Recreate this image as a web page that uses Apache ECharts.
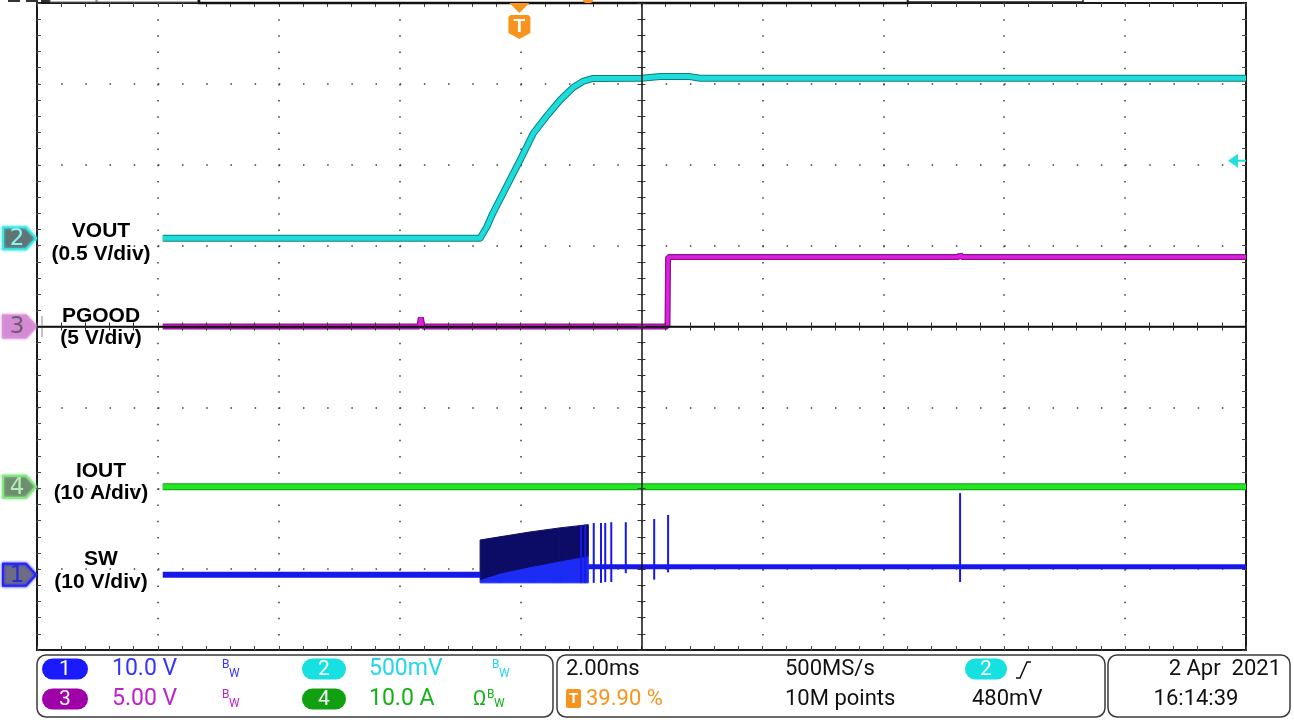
<!DOCTYPE html>
<html><head><meta charset="utf-8">
<script src="https://cdn.jsdelivr.net/npm/echarts@6/dist/echarts.min.js"></script>
<style>html,body{margin:0;padding:0;background:#fff}#c{width:1294px;height:722px}</style>
</head><body><div id="c"></div>
<script>
// ---- channel settings (volts or amps per division, marker offset in divisions) ----
const chScale  = { SW: 10, VOUT: 0.5, PGOOD: 5, IOUT: 10 };
const chOffset = { SW: -3.07, VOUT: 1.09, PGOOD: 0, IOUT: -1.98 };
const triggerTime = -2.02;      // ms from screen centre (39.90 %)
const triggerLevel = 0.48;      // V on channel 2

// ---- traces (time in ms relative to screen centre) ----
const voutT = [-7.92, -2.67, -2.56, -2.46, -2.18, -2.01, -1.79, -1.56, -1.35, -1.13, -0.97, -0.80, 0.00, 0.31, 0.80, 0.97, 5.27, 10.0];
const voutV = [0, 0, 0.07, 0.155, 0.358, 0.482, 0.649, 0.760, 0.853, 0.933, 0.970, 0.989, 0.99, 1.00, 1.00, 0.99, 0.99, 0.99];

const pgoodT = [-7.92, -3.675, -3.65, -3.625, 0.43, 0.44, 5.25, 5.27, 5.30, 10.0];
const pgoodV = [0, 0, 0.55, 0, 0, 4.3, 4.3, 4.45, 4.3, 4.3];

const ioutT = [-7.92, 10.0];
const ioutV = [0, 0];

const swPreT = [-7.92, -2.67];
const swPreV = [0, 0];
const swBurstT   = [-2.67, -2.34, -1.84, -1.35, -0.88];
const swBurstTop = [4.3, 4.7, 5.3, 5.8, 6.2];
const swBurstMid = [-0.6, 0.2, 1.0, 1.7, 2.35];
const swBurstLow = [-1.0, -1.0, -1.0, -1.0, -1.0];
const swPostT = [-0.88, 10.0];
const swPostV = [1.0, 1.0];
const swSpikeT  = [-1.00, -0.93, -0.79, -0.67, -0.60, -0.50, -0.26, 0.21, 0.44, 5.27];
const swSpikeHi = [6.1, 6.2, 6.4, 6.4, 6.4, 6.5, 6.5, 6.9, 7.4, 10.1];
const swSpikeLo = [-1.0, -1.0, -1.0, -1.0, -0.9, -0.9, 0.2, -0.6, 0.3, -0.9];

// ---- helpers ----
const toDiv = (v, ch) => v / chScale[ch] + chOffset[ch];
const pts = (T, V, ch) => T.map((t, i) => [t, toDiv(V[i], ch)]);

const burstData = swBurstT.map((t, i) => [t, toDiv(swBurstTop[i], 'SW'), toDiv(swBurstMid[i], 'SW'), toDiv(swBurstLow[i], 'SW')]);
const spikeData = swSpikeT.map((t, i) => [t, toDiv(swSpikeHi[i], 'SW'), toDiv(swSpikeLo[i], 'SW')]);

const chart = echarts.init(document.getElementById('c'), null, { renderer: 'canvas' });

const GRID_DOT = '#3a3a3a';
function borderX(pos, split) {
  return {
    type: 'value', min: -10, max: 10, interval: 2, position: pos,
    axisLine: { show: false, onZero: false },
    axisTick: { show: true, inside: true, length: 4, lineStyle: { color: '#444', width: 1 } },
    minorTick: { show: true, splitNumber: 5, length: 4, lineStyle: { color: '#444', width: 1 } },
    axisLabel: { show: false },
    splitLine: { show: split, lineStyle: { color: GRID_DOT, width: 1.5, type: [1.5, 14.68] } }
  };
}
function borderY(pos, split) {
  return {
    type: 'value', min: -4, max: 4, interval: 1, position: pos,
    axisLine: { show: false, onZero: false },
    axisTick: { show: true, inside: true, length: 4, lineStyle: { color: '#444', width: 1 } },
    minorTick: { show: true, splitNumber: 5, length: 4, lineStyle: { color: '#444', width: 1 } },
    axisLabel: { show: false },
    splitLine: { show: split, lineStyle: { color: GRID_DOT, width: 1.5, type: [1.5, 22.68] } }
  };
}
function centerX(pos, showLine) {
  return {
    type: 'value', min: -10, max: 10, interval: 2, position: pos, z: 20,
    axisLine: { show: showLine, onZero: true, onZeroAxisIndex: 0, lineStyle: { color: '#111', width: 1.5 } },
    axisTick: { show: true, length: 4, lineStyle: { color: '#333', width: 1 } },
    minorTick: { show: true, splitNumber: 5, length: 4, lineStyle: { color: '#333', width: 1 } },
    axisLabel: { show: false }, splitLine: { show: false }
  };
}
function centerY(pos, showLine) {
  return {
    type: 'value', min: -4, max: 4, interval: 1, position: pos, z: 20,
    axisLine: { show: showLine, onZero: true, onZeroAxisIndex: 0, lineStyle: { color: '#111', width: 1.5 } },
    axisTick: { show: true, length: 4, lineStyle: { color: '#333', width: 1 } },
    minorTick: { show: true, splitNumber: 5, length: 4, lineStyle: { color: '#333', width: 1 } },
    axisLabel: { show: false }, splitLine: { show: false }
  };
}

function line(data, color, width, z, join) {
  return { type: 'line', data, xAxisIndex: 0, yAxisIndex: 0, symbol: 'none', showSymbol: false,
    lineStyle: { color, width, join: join || 'miter' }, itemStyle: { color }, z, silent: true, animation: false };
}

const series = [
  line(pts(swPreT, swPreV, 'SW'), '#1818e8', 6, 2),
  { type: 'custom', xAxisIndex: 0, yAxisIndex: 0, data: burstData, z: 2, silent: true, animation: false, clip: true,
    encode: { x: 0, y: [1, 2, 3] },
    renderItem: function (params, api) {
      const i = params.dataIndex;
      if (i >= burstData.length - 1) return null;
      const a = burstData[i], b = burstData[i + 1];
      const c = (t, y) => api.coord([t, y]);
      return { type: 'group', children: [
        { type: 'polygon', shape: { points: [c(a[0], a[2]), c(b[0], b[2]), c(b[0], b[3]), c(a[0], a[3])] },
          style: { fill: '#1c2cf4', stroke: '#1c2cf4', lineWidth: 1 } },
        { type: 'polygon', shape: { points: [c(a[0], a[1]), c(b[0], b[1]), c(b[0], b[2]), c(a[0], a[2])] },
          style: { fill: '#0c0c66', stroke: '#0c0c66', lineWidth: 1 } }
      ] };
    } },
  line(pts(swPostT, swPostV, 'SW'), '#1818e8', 5, 2),
  { type: 'custom', xAxisIndex: 0, yAxisIndex: 0, data: spikeData, z: 2, silent: true, animation: false, clip: true,
    encode: { x: 0, y: [1, 2] },
    renderItem: function (params, api) {
      const p1 = api.coord([api.value(0), api.value(1)]);
      const p2 = api.coord([api.value(0), api.value(2)]);
      return { type: 'line', shape: { x1: p1[0], y1: p1[1], x2: p2[0], y2: p2[1] }, style: { stroke: '#1818e8', lineWidth: 2 } };
    } },
  line(pts(ioutT, ioutV, 'IOUT'), '#129a12', 7, 3),
  line(pts(ioutT, ioutV, 'IOUT'), '#22e622', 5, 3),
  line(pts(pgoodT, pgoodV, 'PGOOD'), '#8c128c', 6, 3, 'bevel'),
  line(pts(pgoodT, pgoodV, 'PGOOD'), '#e01ee0', 3.5, 3, 'bevel'),
  line(pts(voutT, voutV, 'VOUT'), '#0d7f7f', 7, 4, 'round'),
  line(pts(voutT, voutV, 'VOUT'), '#1fdcdc', 5, 4, 'round')
];

const option = {
  animation: false,
  backgroundColor: '#ffffff',
  grid: { left: 37, top: 3, width: 1209, height: 647, show: true, borderColor: '#1a1a1a', borderWidth: 2, backgroundColor: '#ffffff' },
  xAxis: [borderX('bottom', true), borderX('top', false), centerX('bottom', true), centerX('top', false)],
  yAxis: [borderY('left', true), borderY('right', false), centerY('left', true), centerY('right', false)],
  series
};
chart.setOption(option);

// ---------- annotations ----------
const FONT = 'Roboto, "Liberation Sans", Arial, sans-serif';
const LFONT = '"Liberation Sans", Arial, sans-serif';
const G = [];
function txt(x, y, t, fill, size, align, weight, family) {
  G.push({ type: 'text', x, y, z: 20, silent: true,
    style: { text: t, fill, font: (weight || 'normal') + ' ' + size + 'px ' + (family || FONT),
      align: align || 'left', textAlign: align || 'left', verticalAlign: 'middle', textVerticalAlign: 'middle' } });
}
function rect(x, y, w, h, fill, stroke, lw, r) {
  G.push({ type: 'rect', z: 19, silent: true, shape: { x, y, width: w, height: h, r: r || 0 },
    style: { fill: fill || 'none', stroke: stroke || 'none', lineWidth: lw || 1 } });
}
function poly(points, fill, stroke, lw, extra) {
  G.push(Object.assign({ type: 'polygon', z: 19, silent: true, shape: { points },
    style: { fill, stroke: stroke || 'none', lineWidth: lw || 1 } }, extra || {}));
}

// centre horizontal graticule line drawn over the traces
const cy = chart.convertToPixel({ yAxisIndex: 0 }, 0);
const gx0 = chart.convertToPixel({ xAxisIndex: 0 }, -10), gx1 = chart.convertToPixel({ xAxisIndex: 0 }, 10);
G.push({ type: 'line', z: 18, silent: true, shape: { x1: gx0, y1: cy, x2: gx1, y2: cy }, style: { stroke: '#111', lineWidth: 1.5 } });

// top header slivers
rect(8, -2, 12, 4, '#333');
rect(26, -2, 12, 4, '#333');
rect(41, -2, 12, 4, '#333');
rect(50, -10, 46, 12, '#fff', '#666', 1);
rect(97, -10, 101, 12, '#fff', '#666', 1);
rect(199, -10, 709, 13, 'none', '#111', 2.5);
rect(908, -10, 175, 12, '#fff', '#222', 1.5);
rect(583, -4, 10, 7, '#f7941d', null, 1, 3);

// trigger position marker
const tx = chart.convertToPixel({ xAxisIndex: 0 }, triggerTime);
poly([[tx - 10, 3], [tx + 10, 3], [tx, 13]], '#f7941d');
poly([[tx - 11, 17], [tx - 9, 15], [tx + 9, 15], [tx + 11, 17], [tx + 11, 33], [tx, 39], [tx - 11, 33]], '#f7941d');
txt(tx, 27, 'T', '#ffffff', 19, 'center', 'bold', LFONT);

// trigger level arrow (right)
const ty = chart.convertToPixel({ yAxisIndex: 0 }, toDiv(triggerLevel, 'VOUT'));
poly([[1228, ty], [1238, ty - 7], [1238, ty + 7]], '#22dede');
G.push({ type: 'line', z: 19, silent: true, shape: { x1: 1236, y1: ty, x2: 1246, y2: ty }, style: { stroke: '#22dede', lineWidth: 2 } });

// channel tags on the left
const tags = [
  { ch: 'VOUT', n: '2', fill: '#5f7474', stroke: '#3fe8e8', color: '#8ff0f0' },
  { ch: 'PGOOD', n: '3', fill: '#d48ad4', stroke: '#d890d8', color: '#6e5c6e' },
  { ch: 'IOUT', n: '4', fill: '#6e8c6e', stroke: '#86e686', color: '#b4eeb4' },
  { ch: 'SW', n: '1', fill: '#6c6c84', stroke: '#2424ff', color: '#2a2ad8' }
];
tags.forEach(tg => {
  const y = chart.convertToPixel({ yAxisIndex: 0 }, chOffset[tg.ch]);
  poly([[3, y - 11], [26, y - 11], [36, y], [26, y + 11], [3, y + 11]], tg.fill, tg.stroke, 2,
    { style: { fill: tg.fill, stroke: tg.stroke, lineWidth: 2, shadowBlur: 3, shadowColor: tg.stroke } });
  txt(17, y + 1, tg.n, tg.color, 23, 'center', 'normal', '"DejaVu Sans", sans-serif');
});
G.push({ type: 'line', z: 19, silent: true, shape: { x1: 42, y1: 316, x2: 42, y2: 337 }, style: { stroke: '#888', lineWidth: 1 } });

// trace labels
const labels = [
  ['VOUT', 231, '(0.5 V/div)', 254],
  ['PGOOD', 316, '(5 V/div)', 338],
  ['IOUT', 471, '(10 A/div)', 493],
  ['SW', 559, '(10 V/div)', 582]
];
labels.forEach(l => {
  txt(101, l[1], l[0], '#000', 21, 'center', 'bold', LFONT);
  txt(101, l[3], l[2], '#000', 21, 'center', 'bold', LFONT);
});

// bottom status boxes
rect(37, 655, 516, 62, '#fff', '#3a3a3a', 1.5, 9);
rect(557, 655, 548, 62, '#fff', '#3a3a3a', 1.5, 9);
rect(1108, 655, 182, 62, '#fff', '#3a3a3a', 1.5, 9);

function pill(x, y, w, color, n) {
  rect(x, y - 10.5, w, 21, color, null, 1, 10.5);
  txt(x + w / 2, y + 1, n, '#ffffff', 21, 'center', 'normal', FONT);
}
function bw(x, y, color) {
  txt(x, y - 4, 'B', color, 12, 'left', 'normal', FONT);
  txt(x + 7, y + 5, 'W', color, 12, 'left', 'normal', FONT);
}
const R1 = 669, R2 = 699;
pill(42, R1, 46, '#1a1aff', '1');
txt(112, R1, '10.0 V', '#3434ff', 23);
bw(222, R1, '#3434ff');
pill(302, R1, 44, '#16e0e0', '2');
txt(369, R1, '500mV', '#22d8e8', 23);
bw(492, R1, '#22d8e8');
pill(42, R2, 46, '#a000a8', '3');
txt(112, R2, '5.00 V', '#c020c8', 23);
bw(222, R2, '#c020c8');
pill(302, R2, 44, '#10a010', '4');
txt(369, R2, '10.0 A', '#18b018', 23);
txt(473, R2 + 1, 'Ω', '#18b018', 20);
bw(487, R2, '#18b018');

txt(566, R1, '2.00ms', '#111', 22);
txt(785, R1, '500MS/s', '#111', 22);
pill(965, R1, 42, '#16e0e0', '2');
G.push({ type: 'polyline', z: 20, silent: true, shape: { points: [[1016, 678], [1020, 678], [1027, 662], [1031, 662]] }, style: { stroke: '#111', lineWidth: 1.5, fill: 'none' } });
rect(566, 689, 15, 19, '#f7941d', null, 1, 2);
txt(573.5, 699, 'T', '#ffffff', 15, 'center', 'bold', LFONT);
txt(586, R2, '39.90 %', '#f7941d', 22);
txt(785, R2, '10M points', '#111', 22);
txt(972, R2, '480mV', '#111', 22);

txt(1281, R1, '2 Apr  2021', '#111', 22, 'right');
txt(1196, R2, '16:14:39', '#111', 22, 'center');

chart.setOption({ graphic: { elements: G } });
</script>
</body></html>
